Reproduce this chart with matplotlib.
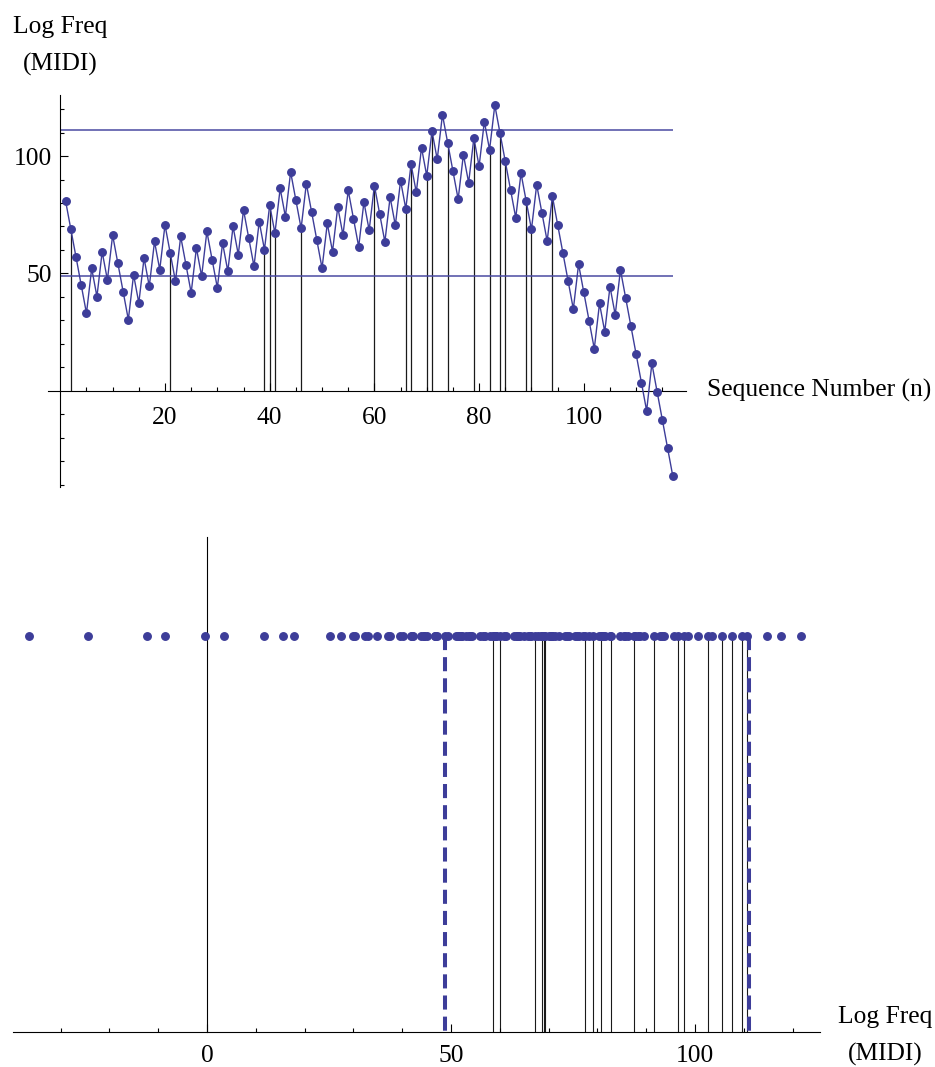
import matplotlib.pyplot as plt
from matplotlib.ticker import FixedLocator

plt.rcParams['font.family'] = ['Liberation Serif', 'DejaVu Serif']
plt.rcParams['font.size'] = 18.4

# log frequency (MIDI) of each step of the sequence
midi = [81.00, 69.00, 57.00, 45.00, 33.00, 52.12, 40.12, 59.21, 47.21, 66.28,
        54.28, 42.28, 30.28, 49.42, 37.42, 56.52, 44.52, 63.60, 51.60, 70.65,
        58.65, 46.65, 65.72, 53.72, 41.72, 60.80, 48.80, 67.86, 55.86, 43.86,
        62.94, 50.94, 69.99, 57.99, 77.04, 65.04, 53.04, 72.09, 60.09, 79.13,
        67.13, 86.17, 74.17, 93.20, 81.20, 69.20, 88.23, 76.23, 64.23, 52.23,
        71.28, 59.28, 78.33, 66.33, 85.36, 73.36, 61.36, 80.40, 68.40, 87.43,
        75.43, 63.43, 82.47, 70.47, 89.50, 77.50, 96.53, 84.53, 103.55, 91.55,
        110.58, 98.58, 117.60, 105.60, 93.60, 81.60, 100.63, 88.63, 107.65, 95.65,
        114.67, 102.67, 121.69, 109.69, 97.69, 85.69, 73.69, 92.72, 80.72, 68.72,
        87.76, 75.76, 63.76, 82.79, 70.79, 58.79, 46.79, 34.79, 53.91, 41.91,
        29.91, 17.91, 37.18, 25.18, 44.36, 32.36, 51.49, 39.49, 27.49, 15.49,
        3.49, -8.51, 11.62, -0.38, -12.38, -24.38, -36.38]
seq = list(range(1, len(midi) + 1))

# marked steps (drawn with a stem)
marked = [2, 21, 39, 40, 41, 46, 60, 66, 67, 70, 71, 74, 79, 82, 84, 85, 89, 90, 94]
# range limits
low, high = 48.8, 111.0

blue = '#3d3d99'
W, H = 935, 1067

fig = plt.figure(figsize=(W / 100, H / 100), dpi=100)

# ---------- top: sequence plot ----------
ax1 = fig.add_axes([48.3 / W, (H - 487) / H, (686 - 48.3) / W, (487 - 95) / H])
ax1.set_xlim(-2.29, 119.52)
ax1.set_ylim(-41.0, 126.0)
for s in ['top', 'right']:
    ax1.spines[s].set_visible(False)
ax1.spines['left'].set_position(('data', 0))
ax1.spines['bottom'].set_position(('data', 0))
for s in ['left', 'bottom']:
    ax1.spines[s].set_linewidth(0.8)

mv = [midi[i - 1] for i in marked]
ax1.vlines(marked, 0, mv, color='#1a1a1a', lw=0.9, zorder=1)
ax1.hlines([low, high], 0, len(midi), color='#4a4aa2', lw=1.1, zorder=1)
ax1.plot(seq, midi, color=blue, lw=1.0, marker='o', ms=5.4, mec=blue, mfc=blue, zorder=3, clip_on=False)

ax1.xaxis.set_major_locator(FixedLocator([20, 40, 60, 80, 100]))
ax1.xaxis.set_minor_locator(FixedLocator([5, 10, 15, 25, 30, 35, 45, 50, 55, 65, 70, 75,
                                          85, 90, 95, 105, 110, 115]))
ax1.yaxis.set_major_locator(FixedLocator([50, 100]))
ax1.yaxis.set_minor_locator(FixedLocator([-40, -30, -20, -10, 10, 20, 30, 40, 60, 70, 80, 90, 110, 120]))
ax1.tick_params(which='both', direction='in', width=0.8)
ax1.tick_params(which='major', length=5.5)
ax1.tick_params(which='minor', length=3)
ax1.tick_params(axis='x', which='major', pad=12)
ax1.tick_params(axis='y', which='major', pad=6)

fig.text(60.5 / W, (H - 33) / H, 'Log Freq', ha='center', va='baseline')
fig.text(60.5 / W, (H - 71) / H, '(MIDI)', ha='center', va='baseline')
fig.text(707 / W, (H - 390) / H, 'Sequence Number (n)', ha='left', va='center')

# ---------- bottom: values on a line ----------
ax2 = fig.add_axes([13 / W, (H - 1032) / H, (820 - 13) / W, (1032 - 537) / H])
ax2.set_xlim(-39.75, 125.6)
ax2.set_ylim(0, 1.25)
for s in ['top', 'right']:
    ax2.spines[s].set_visible(False)
ax2.spines['left'].set_position(('data', 0))
for s in ['left', 'bottom']:
    ax2.spines[s].set_linewidth(0.8)
ax2.set_yticks([])

ax2.vlines(mv, 0, 1, color='#1a1a1a', lw=0.8, zorder=1)
ax2.plot([low, low], [1, 0], color=blue, lw=2.9, ls=(0, (3.5, 1.75)), zorder=2)
ax2.plot([high, high], [1, 0], color=blue, lw=2.9, ls=(0, (3.5, 1.75)), zorder=2)
ax2.plot(midi, [1] * len(midi), 'o', color=blue, ms=5.4, zorder=3, clip_on=False)

ax2.xaxis.set_major_locator(FixedLocator([0, 50, 100]))
ax2.xaxis.set_minor_locator(FixedLocator([-30, -20, -10, 10, 20, 30, 40, 60, 70, 80, 90, 110, 120]))
ax2.tick_params(which='both', direction='in', width=0.8)
ax2.tick_params(which='major', length=5.5, pad=9)
ax2.tick_params(which='minor', length=3)

fig.text(885 / W, (H - 1023) / H, 'Log Freq', ha='center', va='baseline')
fig.text(885 / W, (H - 1061) / H, '(MIDI)', ha='center', va='baseline')

fig.savefig('out.png', dpi=100)
